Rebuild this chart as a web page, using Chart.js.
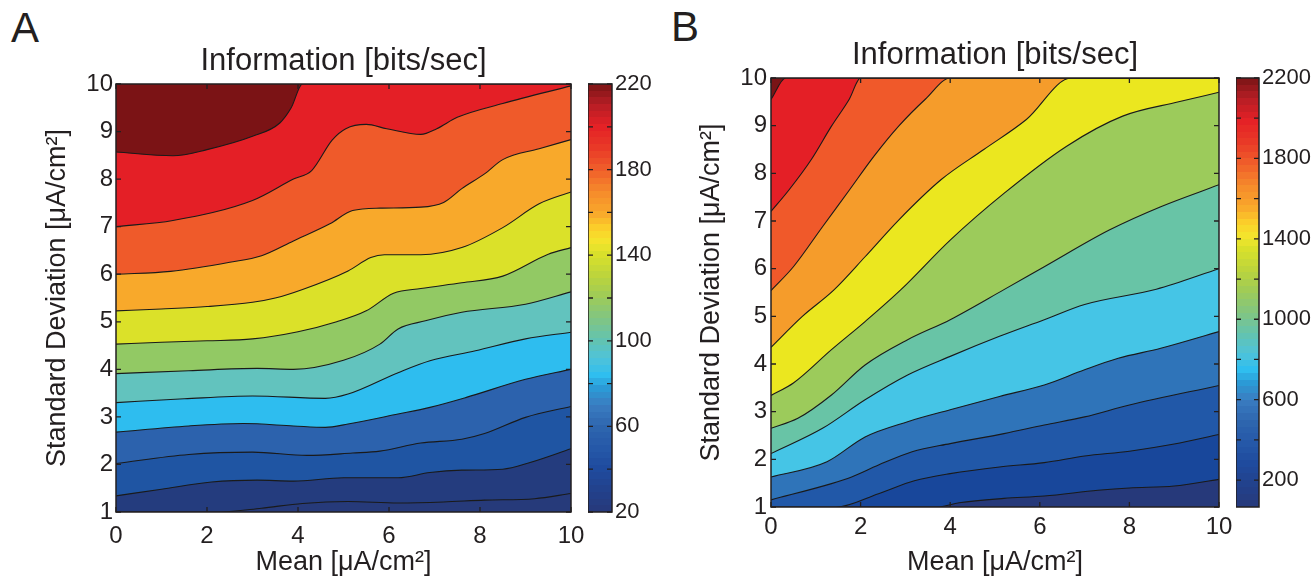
<!DOCTYPE html>
<html>
<head>
<meta charset="utf-8">
<script src="https://cdn.jsdelivr.net/npm/chart.js@4.4.1/dist/chart.umd.min.js"></script>
<style>
    body { margin: 0; background: #fff; width: 1315px; height: 579px; overflow: hidden; position: relative;
           font-family: "Liberation Sans", Arial, sans-serif; }
    canvas { position: absolute; }
    .tag { position: absolute; font-size: 42px; line-height: 42px; color: #231f20; }
</style>
</head>
<body>
<div class="tag" style="left:11px;top:7px">A</div>
<div class="tag" style="left:671px;top:6px">B</div>
<canvas id="plotA" width="601" height="579" style="left:0;top:0"></canvas>
<canvas id="barA" width="76" height="579" style="left:588px;top:0"></canvas>
<canvas id="plotB" width="594" height="579" style="left:655px;top:0"></canvas>
<canvas id="barB" width="79" height="579" style="left:1236px;top:0"></canvas>
<script>
// Axis ticks
const meanTicks = [0, 2, 4, 6, 8, 10];
const sdTicks = [1, 2, 3, 4, 5, 6, 7, 8, 9, 10];

// Panel A contour lines, [mean, sd] points, bottom to top
const a1 = [[0,1],[2.3,1],[3.2,1.08],[4.1,1.18],[5.1,1.22],[6.2,1.19],[7.2,1.21],[8.1,1.25],[9.2,1.28],[10,1.39]];
const a2 = [[0,1.34],[1,1.48],[2.1,1.63],[3.1,1.67],[3.9,1.65],[5,1.72],[6.2,1.72],[6.9,1.83],[7.6,1.88],[8.5,1.9],[9.1,2.04],[10,2.33]];
const a3 = [[0,2.02],[1.6,2.21],[3,2.26],[4.2,2.19],[5.2,2.24],[5.8,2.28],[6.7,2.45],[7.6,2.53],[8.1,2.65],[9,2.99],[10,3.22]];
const a4 = [[0,2.68],[1.6,2.81],[2.8,2.86],[3.9,2.81],[4.6,2.78],[5.1,2.85],[6.2,3.06],[6.9,3.2],[7.7,3.41],[9,3.79],[10,4.0]];
const a5 = [[0,3.3],[1.5,3.38],[3,3.44],[4.6,3.39],[5.1,3.48],[6.2,3.93],[6.9,4.18],[7.9,4.39],[9,4.64],[10,4.78]];
const a6 = [[0,3.91],[1.6,3.97],[3.1,4.02],[3.9,4.0],[5,4.19],[5.8,4.53],[6.2,4.85],[6.8,5.02],[7.6,5.2],[9,5.37],[10,5.63]];
const a7 = [[0,4.53],[1,4.57],[2,4.6],[3,4.64],[4,4.79],[4.85,5.0],[5.5,5.23],[6.1,5.6],[6.7,5.7],[7.6,5.82],[8.5,5.96],[9.5,6.42],[10,6.56]];
const a8 = [[0,5.23],[1,5.27],[2,5.32],[3,5.41],[3.5,5.5],[4.1,5.68],[5.1,6.07],[5.6,6.35],[5.9,6.41],[6.7,6.41],[7.6,6.56],[8.5,6.98],[9.3,7.48],[10,7.73]];
const a9 = [[0,6.0],[1.2,6.06],[2.5,6.25],[3.2,6.39],[3.9,6.7],[4.7,7.06],[5.2,7.34],[5.8,7.39],[6.7,7.41],[7.2,7.51],[7.6,7.8],[8.1,8.11],[8.5,8.41],[9.3,8.64],[10,8.83]];
const a10 = [[0,7.0],[1.25,7.13],[3,7.55],[3.9,8.0],[4.3,8.18],[4.75,8.82],[5.05,9.06],[5.5,9.15],[5.95,9.06],[6.7,8.94],[7.05,9.06],[7.5,9.3],[8.5,9.59],[10,9.96]];
const a11 = [[0,8.57],[1.25,8.49],[2,8.62],[3,8.9],[3.6,9.18],[3.85,9.5],[4.1,10],[10,10]];

// Panel B contour lines, bottom to top
const b1 = [[0,1],[3.7,1],[4.2,1.09],[5.2,1.18],[6.1,1.23],[7.3,1.35],[8,1.4],[9,1.44],[10,1.58]];
const b2 = [[0,1],[1.45,1],[2.4,1.28],[3.2,1.55],[4,1.7],[5.1,1.84],[6.1,1.93],[7,2.07],[8,2.17],[9,2.32],[10,2.52]];
const b3 = [[0,1.15],[1.35,1.49],[1.8,1.63],[2.4,1.88],[3.15,2.16],[4,2.33],[5.2,2.54],[6.1,2.72],[7,2.89],[8,3.14],[10,3.55]];
const b4 = [[0,1.63],[1.25,1.95],[2.1,2.47],[3.05,2.79],[4,3.04],[5.1,3.32],[6.1,3.56],[7,3.88],[7.75,4.12],[8.7,4.33],[10,4.68]];
const b5 = [[0,2.12],[1.15,2.65],[2.1,3.25],[3.05,3.77],[4,4.16],[5.1,4.58],[6.1,4.93],[7,5.25],[8.6,5.57],[10,6.0]];
const b6 = [[0,2.65],[0.6,2.86],[1.35,3.35],[2.1,3.98],[3.05,4.51],[4,4.93],[5.2,5.56],[6.1,6.04],[7.55,6.81],[8.7,7.3],[10,7.76]];
const b7 = [[0,3.34],[0.5,3.6],[1.35,4.3],[2.1,4.89],[2.9,5.56],[4,6.6],[5.2,7.58],[6.6,8.57],[7.85,9.2],[9.1,9.5],[10,9.7]];
const b8 = [[0,4.35],[0.7,5.0],[1.4,5.55],[2.1,6.25],[2.85,7.02],[3.8,7.87],[4.75,8.5],[5.7,9.13],[6.7,10],[10,10]];
const b9 = [[0,5.54],[0.5,6.04],[1.15,6.88],[1.75,7.65],[2.3,8.36],[2.85,8.99],[3.45,9.56],[4,10],[10,10]];
const b10 = [[0,7.2],[0.4,7.65],[0.9,8.29],[1.35,8.99],[1.75,9.56],[2,10],[10,10]];
const b11 = [[0,9.55],[0.33,10],[10,10]];

// Colour bars: range and ticks
const barRangeA = [20, 220];
const barTicksA = [20, 40, 60, 80, 100, 120, 140, 160, 180, 200, 220];
const barLabelsA = [20, 60, 100, 140, 180, 220];
const barRangeB = [66, 2200];
const barTicksB = [200, 400, 600, 800, 1000, 1200, 1400, 1600, 1800, 2000, 2200];
const barLabelsB = [200, 600, 1000, 1400, 1800, 2200];

// Band colours, lowest band first
const bandsA = ['#263a7a', '#243c7e', '#1f55a3', '#2c62ad', '#2ebdef', '#62c3be', '#92c964', '#dbe129', '#f8a92b', '#ef5a2a', '#e41f26', '#7b1315'];
const bandsB = ['#26397a', '#18479b', '#2158a8', '#2f74b9', '#45c5e6', '#68c4a6', '#9ccb5b', '#ebe71f', '#f59c2b', '#f0592a', '#e41f26', '#7a1416'];

const INK = '#231f20';
const FONT = '"Liberation Sans", Arial, sans-serif';

// Colormap anchors for the colour bars
const cmap = [
    [0, '#27397a'], [0.04, '#233f88'], [0.1, '#1f4b9e'], [0.15, '#2558a8'], [0.2, '#2e66af'],
    [0.25, '#3a7dc1'], [0.29, '#2b9bd6'], [0.32, '#2fbeef'], [0.36, '#50c3d8'], [0.4, '#62c3b2'],
    [0.45, '#80c584'], [0.5, '#9ccb5a'], [0.55, '#bbd43d'], [0.6, '#d8e02b'], [0.63, '#f3e52c'],
    [0.66, '#fbd12a'], [0.7, '#f9a62b'], [0.75, '#f5892b'], [0.8, '#f05e2a'], [0.85, '#e93a27'],
    [0.9, '#e42126'], [0.95, '#b81e25'], [1, '#7a1416']
];

function hexToRgb(h) {
    return [1, 3, 5].map(i => parseInt(h.slice(i, i + 2), 16));
}

function cmapColor(f) {
    for (let i = 1; i < cmap.length; i++) {
        if (f <= cmap[i][0]) {
            const [f0, c0] = cmap[i - 1];
            const [f1, c1] = cmap[i];
            const t = (f - f0) / (f1 - f0);
            const a = hexToRgb(c0), b = hexToRgb(c1);
            return `rgb(${a.map((v, k) => Math.round(v + (b[k] - v) * t)).join(',')})`;
        }
    }
    return cmap[cmap.length - 1][1];
}

function stepGradient(chart) {
    const area = chart.chartArea;
    if (!area) return cmap[0][1];
    const g = chart.ctx.createLinearGradient(0, area.bottom, 0, area.top);
    const n = 64;
    for (let i = 0; i < n; i++) {
        const c = cmapColor((i + 0.5) / n);
        g.addColorStop(i / n, c);
        g.addColorStop((i + 1) / n, c);
    }
    return g;
}

// Frame with inward tick marks, MATLAB style
const framePlugin = {
    id: 'frame',
    afterDatasetsDraw(chart, args, opts) {
        const { ctx, chartArea: a, scales } = chart;
        const len = 5;
        ctx.save();
        ctx.strokeStyle = INK;
        ctx.lineWidth = 1.3;
        ctx.beginPath();
        if (opts.xTicks) {
            scales.x.ticks.forEach(t => {
                const px = scales.x.getPixelForValue(t.value);
                ctx.moveTo(px, a.bottom); ctx.lineTo(px, a.bottom - len);
                ctx.moveTo(px, a.top); ctx.lineTo(px, a.top + len);
            });
        }
        scales.y.ticks.forEach(t => {
            const py = scales.y.getPixelForValue(t.value);
            ctx.moveTo(a.left, py); ctx.lineTo(a.left + len, py);
            ctx.moveTo(a.right, py); ctx.lineTo(a.right - len, py);
        });
        ctx.stroke();
        ctx.lineWidth = 1.5;
        ctx.strokeRect(a.left, a.top, a.right - a.left, a.bottom - a.top);
        ctx.restore();
    }
};

function contourChart(id, lines, bands, cfg) {
    const datasets = [];
    // Top line first: Chart.js paints lower indexes last
    for (let i = lines.length - 1; i >= 0; i--) {
        datasets.push({
            data: lines[i].map(p => ({ x: p[0], y: p[1] })),
            borderColor: '#1a1a1a',
            borderWidth: 1.1,
            pointRadius: 0,
            cubicInterpolationMode: 'monotone',
            fill: 'end',
            backgroundColor: bands[i + 1]
        });
    }
    datasets.push({
        data: [{ x: meanTicks[0], y: sdTicks[0] }, { x: meanTicks[meanTicks.length - 1], y: sdTicks[0] }],
        borderColor: 'transparent',
        borderWidth: 0,
        pointRadius: 0,
        fill: 'end',
        backgroundColor: bands[0]
    });

    return new Chart(document.getElementById(id), {
        type: 'line',
        data: { datasets },
        plugins: [framePlugin],
        options: {
            responsive: false,
            animation: false,
            layout: { padding: { left: 0, right: 30, top: 0, bottom: 0 } },
            plugins: {
                legend: { display: false },
                tooltip: { enabled: false },
                frame: { xTicks: true },
                title: {
                    display: true,
                    text: 'Information [bits/sec]',
                    fullSize: false,
                    color: INK,
                    font: { family: FONT, size: 31, weight: 'normal' },
                    padding: { top: cfg.titleTop, bottom: cfg.titleBottom }
                }
            },
            scales: {
                x: {
                    type: 'linear',
                    min: meanTicks[0],
                    max: meanTicks[meanTicks.length - 1],
                    afterBuildTicks: s => { s.ticks = meanTicks.map(v => ({ value: v })); },
                    afterFit: s => { s.height = cfg.xHeight; },
                    grid: { display: false, drawTicks: false },
                    border: { display: false },
                    ticks: { color: INK, font: { family: FONT, size: 24 }, padding: cfg.xPad, maxRotation: 0, autoSkip: false },
                    title: {
                        display: true,
                        text: 'Mean [μA/cm²]',
                        color: INK,
                        font: { family: FONT, size: 27 },
                        padding: { top: 0, bottom: 0 }
                    }
                },
                y: {
                    type: 'linear',
                    min: sdTicks[0],
                    max: sdTicks[sdTicks.length - 1],
                    afterBuildTicks: s => { s.ticks = sdTicks.map(v => ({ value: v })); },
                    afterFit: s => { s.width = 116; },
                    grid: { display: false, drawTicks: false },
                    border: { display: false },
                    ticks: { color: INK, font: { family: FONT, size: 24 }, padding: cfg.yPad, autoSkip: false },
                    title: {
                        display: true,
                        text: 'Standard Deviation [μA/cm²]',
                        color: INK,
                        font: { family: FONT, size: 27 },
                        padding: { top: cfg.yTitlePad, bottom: 0 }
                    }
                }
            }
        }
    });
}

function colorBar(id, range, ticks, labels, cfg) {
    return new Chart(document.getElementById(id), {
        type: 'bar',
        data: {
            labels: [''],
            datasets: [{
                data: [range],
                backgroundColor: c => stepGradient(c.chart),
                borderWidth: 0,
                barPercentage: 1,
                categoryPercentage: 1
            }]
        },
        plugins: [framePlugin],
        options: {
            responsive: false,
            animation: false,
            layout: { padding: { left: 0, right: 0, top: cfg.top, bottom: cfg.bottom } },
            plugins: {
                legend: { display: false },
                tooltip: { enabled: false },
                frame: { xTicks: false }
            },
            scales: {
                x: { display: false },
                y: {
                    position: 'right',
                    min: range[0],
                    max: range[1],
                    afterBuildTicks: s => { s.ticks = ticks.map(v => ({ value: v })); },
                    afterFit: s => { s.width = cfg.width; },
                    grid: { display: false, drawTicks: false },
                    border: { display: false },
                    ticks: {
                        color: INK,
                        font: { family: FONT, size: 22 },
                        padding: 3,
                        autoSkip: false,
                        callback: v => labels.includes(v) ? String(v) : ''
                    }
                }
            }
        }
    });
}

contourChart('plotA', [a1, a2, a3, a4, a5, a6, a7, a8, a9, a10, a11], bandsA,
    { titleTop: 43, titleBottom: 3.8, xHeight: 67, xPad: 10, yPad: 3, yTitlePad: 41 });
contourChart('plotB', [b1, b2, b3, b4, b5, b6, b7, b8, b9, b10, b11], bandsB,
    { titleTop: 37, titleBottom: 3.8, xHeight: 72, xPad: 6, yPad: 4, yTitlePad: 40 });
colorBar('barA', barRangeA, barTicksA, barLabelsA, { top: 84, bottom: 67, width: 52 });
colorBar('barB', barRangeB, barTicksB, barLabelsB, { top: 78, bottom: 72, width: 56 });
</script>
</body>
</html>
